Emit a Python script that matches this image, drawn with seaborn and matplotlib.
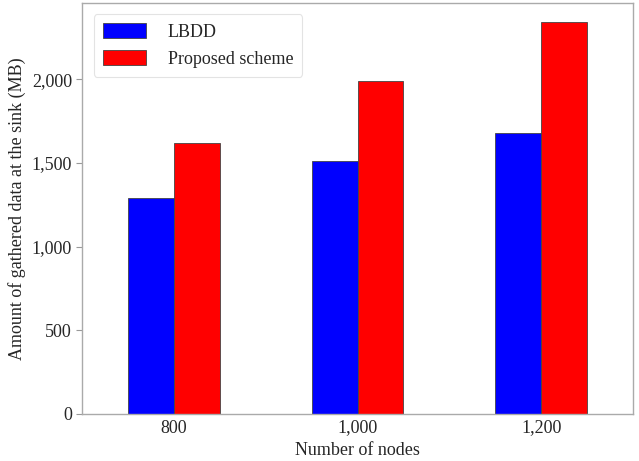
import matplotlib
matplotlib.use("Agg")
import matplotlib.pyplot as plt
import seaborn as sns
import pandas as pd

categories = ["800", "1,000", "1,200"]
lbdd = [1290, 1510, 1678]
proposed = [1618, 1990, 2340]
series_names = ["LBDD", "Proposed scheme"]
y_ticks = [0, 500, 1000, 1500, 2000]
y_ticklabels = ["0", "500", "1,000", "1,500", "2,000"]

df = pd.DataFrame({
    "nodes": categories * 2,
    "value": lbdd + proposed,
    "series": [series_names[0]] * 3 + [series_names[1]] * 3,
})

sns.set_style("white")
plt.rcParams["font.family"] = ["Liberation Serif", "DejaVu Serif"]

fig = plt.figure(figsize=(6.39, 4.61), dpi=100)
ax = fig.add_axes([0.128, 0.102, 0.863, 0.8915])

sns.barplot(data=df, x="nodes", y="value", hue="series", order=categories,
            hue_order=series_names, palette=["#0000ff", "#ff0000"],
            width=0.5, edgecolor="#444444", linewidth=0.6, saturation=1,
            ax=ax, errorbar=None)

ax.set_xlim(-0.5, 2.5)
ax.set_ylim(0, 2455)
ax.set_yticks(y_ticks)
ax.set_yticklabels(y_ticklabels)
ax.set_xlabel("Number of nodes", fontsize=13)
ax.set_ylabel("Amount of gathered data at the sink (MB)", fontsize=13)
ax.tick_params(axis="y", direction="out", length=4, width=0.8, color="#999999",
               labelsize=13, left=True, pad=3)
ax.tick_params(axis="x", length=0, labelsize=13, pad=4)
for s in ax.spines.values():
    s.set_color("#aaaaaa")
    s.set_linewidth(1.0)

leg = ax.legend(loc="upper left", fontsize=13, handlelength=2.4, handleheight=0.9,
                frameon=True, borderpad=0.5, labelspacing=0.5, handletextpad=1.2,
                bbox_to_anchor=(0.005, 0.995))
leg.get_frame().set_edgecolor("#dddddd")
leg.get_frame().set_linewidth(0.8)

fig.savefig("out.png", dpi=100)
